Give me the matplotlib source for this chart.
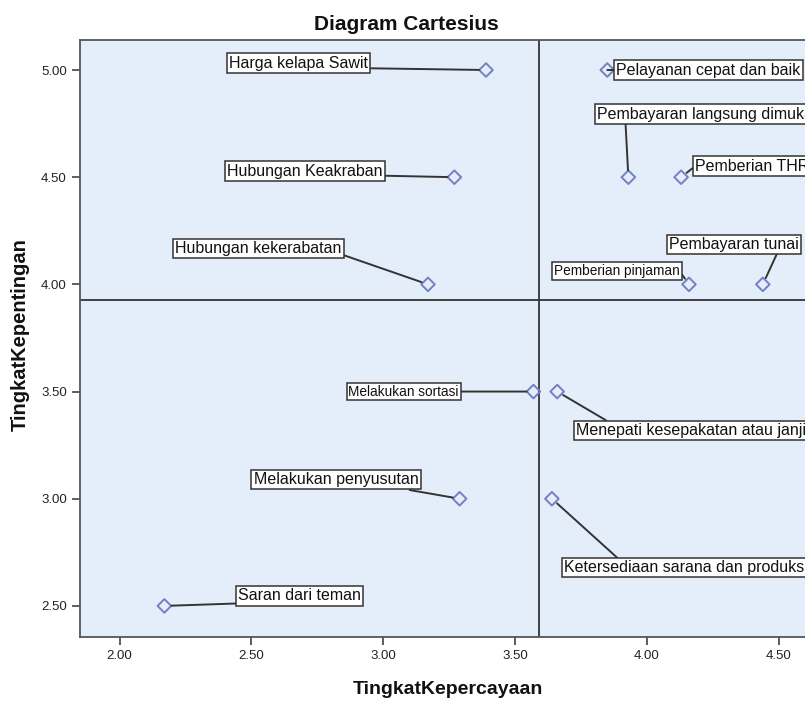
import matplotlib.pyplot as plt
import numpy as np

plt.rcParams['font.family'] = ['Liberation Sans', 'DejaVu Sans']

# data
labels = ["Harga kelapa Sawit", "Pelayanan cepat dan baik", "Pembayaran langsung dimuka",
          "Pemberian THR", "Hubungan Keakraban", "Hubungan kekerabatan",
          "Pemberian pinjaman", "Pembayaran tunai", "Melakukan sortasi",
          "Menepati kesepakatan atau janji", "Melakukan penyusutan",
          "Ketersediaan sarana dan produksi", "Saran dari teman"]
kepercayaan = [3.39, 3.85, 3.93, 4.13, 3.27, 3.17, 4.16, 4.44, 3.57, 3.66, 3.29, 3.64, 2.17]
kepentingan = [5.00, 5.00, 4.50, 4.50, 4.50, 4.00, 4.00, 4.00, 3.50, 3.50, 3.00, 3.00, 2.50]
x_mean = 3.59
y_mean = 3.925
xticks = [2.0, 2.5, 3.0, 3.5, 4.0, 4.5]
yticks = [2.5, 3.0, 3.5, 4.0, 4.5, 5.0]

# label placement (pixel offsets from the marker), line anchor and font size
offsets = [(-257, 7), (9, 0), (-31, 63), (14, 11), (-227, 6), (-253, 36),
           (-135, 13), (-94, 40), (-185, 0), (19, -39), (-206, 19), (12, -69), (74, 10)]
relpos = [(1, 0.15), (0, 0.5), (0.13, 0), (0, 0.5), (1, 0.2), (1, 0.1),
          (1, 0.5), (0.84, 0), (1, 0.5), (0.15, 1), (0.85, 0), (0.23, 1), (0, 0.0)]
sizes = [11.5, 11.5, 11.5, 11.5, 11.5, 11.5, 9.8, 11.5, 9.8, 11.5, 11.5, 11.5, 11.5]

fig = plt.figure(figsize=(8.05, 7.01), dpi=100)
ax = fig.add_axes([80 / 805, 64 / 701, 1 - 80 / 805, (637 - 40) / 701])
ax.set_facecolor('#e4eefa')

ax.axvline(x_mean, color='#333333', lw=1.3, zorder=1)
ax.axhline(y_mean, color='#333333', lw=1.3, zorder=1)

ax.scatter(kepercayaan, kepentingan, marker='D', s=48, facecolor='none',
           edgecolor='#7380c2', linewidth=1.4, zorder=3)

for i in range(len(labels)):
    ax.annotate(labels[i], (kepercayaan[i], kepentingan[i]),
                xytext=offsets[i], textcoords='offset pixels',
                ha='left', va='center', fontsize=sizes[i], color='#111111',
                bbox=dict(boxstyle='square,pad=0.14', fc='white', ec='#333333', lw=1.1),
                arrowprops=dict(arrowstyle='-', color='#333333', lw=1.4,
                                relpos=relpos[i], shrinkA=0, shrinkB=5),
                zorder=4)

ax.set_xlim(1.85, 4.60)
ax.set_ylim(2.355, 5.14)
ax.set_xticks(xticks)
ax.set_xticklabels(['%.2f' % v for v in xticks])
ax.set_yticks(yticks)
ax.set_yticklabels(['%.2f' % v for v in yticks])
ax.tick_params(labelsize=9.5, length=6, width=1.1, color='#333333', labelcolor='#222222')
for s in ['left', 'bottom', 'top']:
    ax.spines[s].set_color('#555555')
    ax.spines[s].set_linewidth(1.3)
ax.spines['right'].set_visible(False)

fig.text(406 / 805, 1 - 24 / 701, "Diagram Cartesius", ha='center', va='center',
         fontsize=15, fontweight='bold', color='#111111')
fig.text(448 / 805, 1 - 690 / 701, "TingkatKepercayaan", ha='center', va='center',
         fontsize=14, fontweight='bold', color='#111111')
fig.text(20 / 805, 1 - 335 / 701, "TingkatKepentingan", ha='center', va='center',
         rotation=90, fontsize=14.5, fontweight='bold', color='#111111')

fig.savefig('out.png', dpi=100)
